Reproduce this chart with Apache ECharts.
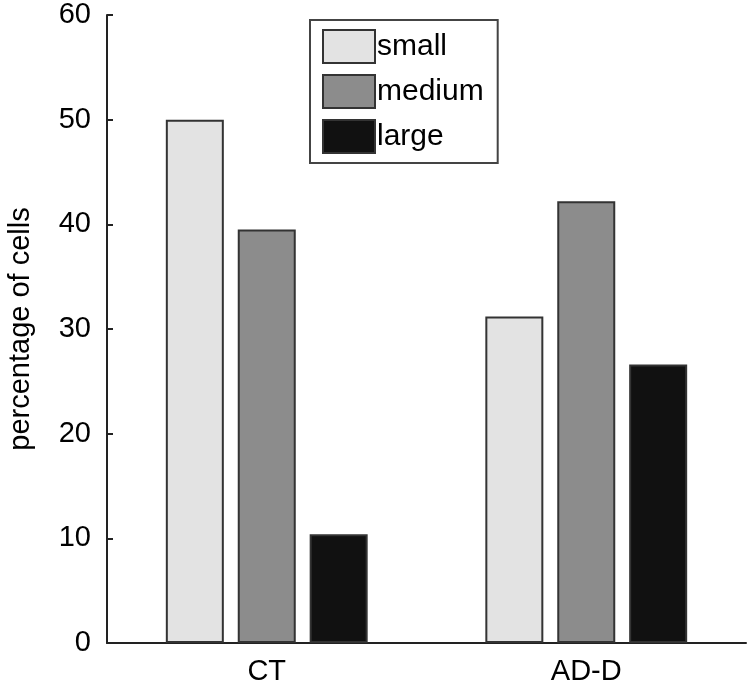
<!DOCTYPE html>
<html>
<head>
    <meta charset="utf-8">
    <title>percentage of cells</title>
    <script src="https://cdn.jsdelivr.net/npm/echarts@6/dist/echarts.min.js"></script>
    <style>
        html, body { margin: 0; padding: 0; background: #fff; }
    </style>
</head>
<body>
	<div id="main" style="width: 749px;height:687px;"></div>
	<script type="text/javascript">
	  var categories = ['CT', 'AD-D'];
	  var seriesNames = ['small', 'medium', 'large'];
	  var smallValues = [50, 31.2];
	  var mediumValues = [39.5, 42.2];
	  var largeValues = [10.4, 26.6];
	  var yTicks = [0, 10, 20, 30, 40, 50, 60];

	  var colors = ['#e3e3e3', '#8c8c8c', '#111111'];
	  var font = 'Liberation Sans, Arial, sans-serif';

	  var myChart = echarts.init(document.getElementById('main'));

	  function makeSeries(name, data, color) {
		return {
		  name: name,
		  type: 'bar',
		  data: data,
		  barWidth: 58,
		  barGap: '24%',
		  itemStyle: {
			color: color,
			borderColor: '#333',
			borderWidth: 2
		  }
		};
	  }

	  var option = {
		animation: false,
		backgroundColor: '#fff',
		grid: {
		  left: 107,
		  right: 3,
		  top: 15,
		  bottom: 44,
		  outerBoundsMode: 'none' // keep the plot box where it is
		},
		legend: {
		  data: seriesNames,
		  orient: 'vertical',
		  left: 310,
		  top: 20,
		  icon: 'rect',
		  itemWidth: 52,
		  itemHeight: 33,
		  itemGap: 10,
		  padding: [9, 14, 9, 12],
		  borderColor: '#444',
		  borderWidth: 2,
		  itemStyle: { borderColor: '#333', borderWidth: 2 },
		  textStyle: { fontFamily: font, fontSize: 30, color: '#000', padding: [0, 0, 0, -3] }
		},
		xAxis: {
		  type: 'category',
		  data: categories,
		  axisTick: { show: false },
		  axisLine: { lineStyle: { color: '#222', width: 2 } },
		  axisLabel: { fontFamily: font, fontSize: 29, color: '#000', margin: 14 }
		},
		yAxis: {
		  type: 'value',
		  min: yTicks[0],
		  max: yTicks[yTicks.length - 1],
		  interval: yTicks[1] - yTicks[0],
		  name: 'percentage of cells',
		  nameLocation: 'middle',
		  nameGap: 72,
		  nameTextStyle: { fontFamily: font, fontSize: 29, color: '#000' },
		  splitLine: { show: false },
		  axisLine: { show: true, lineStyle: { color: '#222', width: 2 } },
		  axisTick: { show: true, inside: true, length: 6, lineStyle: { color: '#222', width: 2 } },
		  axisLabel: { fontFamily: font, fontSize: 29, color: '#000', margin: 16 }
		},
		series: [
		  makeSeries(seriesNames[0], smallValues, colors[0]),
		  makeSeries(seriesNames[1], mediumValues, colors[1]),
		  makeSeries(seriesNames[2], largeValues, colors[2])
		]
	  };
	  myChart.setOption(option);
	</script>
</body>
</html>
